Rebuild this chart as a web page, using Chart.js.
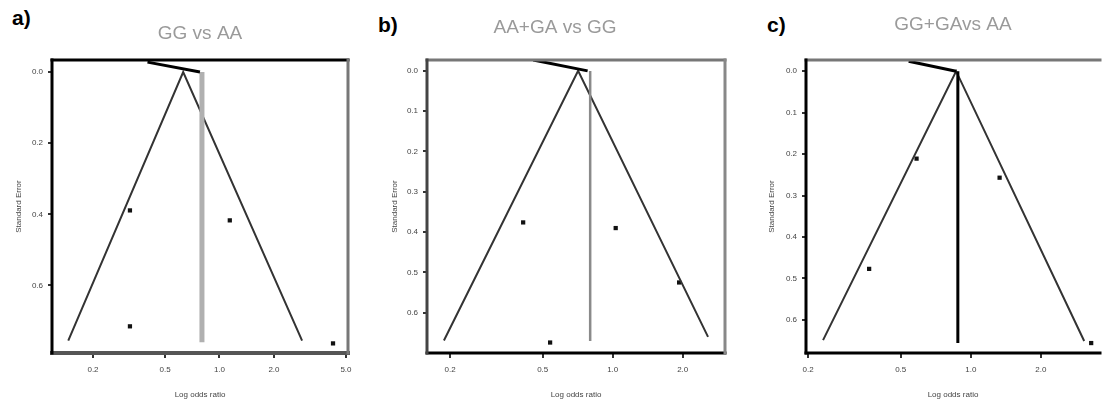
<!DOCTYPE html>
<html>
<head>
<meta charset="utf-8">
<script src="https://cdn.jsdelivr.net/npm/chart.js@4.4.1/dist/chart.umd.min.js"></script>
<style>
  body { margin: 0; background: #fff; width: 1104px; height: 400px; overflow: hidden; position: relative; }
  canvas { position: absolute; top: 0; }
  .tag { position: absolute; font: bold 21px "Liberation Sans", Arial, sans-serif; color: #000; }
</style>
</head>
<body>
<div class="tag" style="left:12px;top:6px">a)</div>
<div class="tag" style="left:378px;top:13px">b)</div>
<div class="tag" style="left:767px;top:13px">c)</div>
<canvas id="chartA" width="368" height="400" style="left:0"></canvas>
<canvas id="chartB" width="350" height="400" style="left:385px"></canvas>
<canvas id="chartC" width="339" height="400" style="left:765px"></canvas>
<script>
// ---- data: odds ratio on x (log axis), standard error on y (reversed) ----
const titles = ["GG vs AA", "AA+GA vs GG", "GG+GAvs AA"];
const xTitle = "Log odds ratio";
const yTitle = "Standard Error";

const xTicksA = [0.2, 0.5, 1, 2, 5];
const xTicksBC = [0.2, 0.5, 1, 2];
const yTicksA = [0, 0.2, 0.4, 0.6];
const yTicksBC = [0, 0.1, 0.2, 0.3, 0.4, 0.5, 0.6];

// a) GG vs AA
const orA = [0.32, 1.14, 0.32, 4.24];
const seA = [0.389, 0.417, 0.715, 0.763];
const funnelOrA = [0.146, 0.63, 2.86];
const funnelSeA = [0.755, 0, 0.755];
const pooledOrA = [0.80, 0.80];
const pooledSeA = [0, 0.76];
const topOrA = [0.40, 0.78];
const topSeA = [-0.028, 0];

// b) AA+GA vs GG
const orB = [0.412, 1.03, 1.93, 0.538];
const seB = [0.376, 0.39, 0.525, 0.674];
const funnelOrB = [0.188, 0.71, 2.57];
const funnelSeB = [0.669, 0, 0.66];
const pooledOrB = [0.80, 0.80];
const pooledSeB = [0, 0.67];
const topOrB = [0.455, 0.78];
const topSeB = [-0.027, 0];

// c) GG+GA vs AA
const orC = [0.585, 1.33, 0.366, 3.29];
const seC = [0.211, 0.257, 0.477, 0.656];
const funnelOrC = [0.232, 0.865, 3.07];
const funnelSeC = [0.649, 0, 0.651];
const pooledOrC = [0.88, 0.88];
const pooledSeC = [0, 0.656];
const topOrC = [0.541, 0.865];
const topSeC = [-0.024, 0];

function pts(xs, ys) {
    return xs.map((x, i) => ({ x: x, y: ys[i] }));
}

// box around the plot area, every side its own colour / width
const framePlugin = {
    id: 'frame',
    afterDatasetsDraw(chart, args, opts) {
        const { ctx, chartArea: a } = chart;
        const sides = {
            top: [a.left, a.top, a.right, a.top],
            bottom: [a.left, a.bottom, a.right, a.bottom],
            left: [a.left, a.top, a.left, a.bottom],
            right: [a.right, a.top, a.right, a.bottom]
        };
        ctx.save();
        ctx.lineCap = 'square';
        Object.keys(sides).forEach(k => {
            const s = opts[k];
            if (!s) return;
            const p = sides[k];
            ctx.strokeStyle = s[0];
            ctx.lineWidth = s[1];
            ctx.beginPath();
            ctx.moveTo(p[0], p[1]);
            ctx.lineTo(p[2], p[3]);
            ctx.stroke();
        });
        ctx.restore();
    }
};

const tickFont = { family: "'Liberation Sans', Arial, sans-serif", size: 8 };

function funnelChart(id, c) {
    return new Chart(document.getElementById(id), {
        type: 'scatter',
        data: {
            datasets: [
                { data: pts(c.topOr, c.topSe), showLine: true, borderColor: '#000', borderWidth: 3, pointRadius: 0 },
                { data: pts(c.pooledOr, c.pooledSe), showLine: true, borderColor: c.pooledColor, borderWidth: c.pooledWidth, pointRadius: 0 },
                { data: pts(c.funnelOr, c.funnelSe), showLine: true, borderColor: '#333', borderWidth: 2, pointRadius: 0 },
                { data: pts(c.or, c.se), pointStyle: 'rect', pointRadius: 3, backgroundColor: '#111', borderColor: '#111', borderWidth: 0 }
            ]
        },
        options: {
            responsive: false,
            animation: false,
            devicePixelRatio: 1,
            layout: { padding: { left: 0, right: c.padRight, top: 0, bottom: 0 } },
            plugins: {
                legend: { display: false },
                tooltip: { enabled: false },
                title: {
                    display: true,
                    text: c.title,
                    fullSize: c.fullSize,
                    color: '#9a9a9a',
                    font: { family: "'Liberation Sans', Arial, sans-serif", size: 19, weight: 'normal', lineHeight: 1.2 },
                    padding: { top: c.titleTop, bottom: 60 - 22.8 - c.titleTop }
                },
                frame: c.frame
            },
            scales: {
                x: {
                    type: 'logarithmic',
                    min: c.xMin,
                    max: c.xMax,
                    afterBuildTicks: s => { s.ticks = c.xTicks.map(v => ({ value: v })); },
                    afterFit: s => { s.height = 47; },
                    grid: { drawOnChartArea: false, drawTicks: true, tickLength: 5, color: '#333', lineWidth: 2 },
                    border: { display: false },
                    ticks: { autoSkip: false, maxRotation: 0, padding: 7, color: '#444', font: tickFont,
                             callback: v => v < 1 ? String(v) : v.toFixed(1) },
                    title: { display: true, text: xTitle, color: '#444', font: tickFont, padding: { top: 0, bottom: 0 } }
                },
                y: {
                    type: 'linear',
                    reverse: true,
                    min: c.yMin,
                    max: c.yMax,
                    afterBuildTicks: s => { s.ticks = c.yTicks.map(v => ({ value: v })); },
                    afterFit: s => { s.width = c.yWidth; },
                    grid: { drawOnChartArea: false, drawTicks: true, tickLength: 4, color: '#333', lineWidth: 2 },
                    border: { display: false },
                    ticks: { autoSkip: false, padding: 5, color: '#444', font: tickFont, callback: v => v.toFixed(1) },
                    title: { display: true, text: yTitle, color: '#444', font: tickFont, padding: { top: c.yTitlePad, bottom: 0 } }
                }
            }
        },
        plugins: [framePlugin]
    });
}

funnelChart('chartA', {
    title: titles[0], fullSize: false, titleTop: 22.8, padRight: 20, yWidth: 52, yTitlePad: 14.2,
    xMin: 0.1187, xMax: 5.13, yMin: -0.034, yMax: 0.79, xTicks: xTicksA, yTicks: yTicksA,
    or: orA, se: seA, funnelOr: funnelOrA, funnelSe: funnelSeA,
    pooledOr: pooledOrA, pooledSe: pooledSeA, topOr: topOrA, topSe: topSeA,
    pooledColor: '#b0b0b0', pooledWidth: 5,
    frame: { top: ['#000', 3], left: ['#000', 3], right: ['#777', 3], bottom: ['#555', 4] }
});

funnelChart('chartB', {
    title: titles[1], fullSize: true, titleTop: 16.8, padRight: 10, yWidth: 42, yTitlePad: 4.7,
    xMin: 0.159, xMax: 3.04, yMin: -0.027, yMax: 0.70, xTicks: xTicksBC, yTicks: yTicksBC,
    or: orB, se: seB, funnelOr: funnelOrB, funnelSe: funnelSeB,
    pooledOr: pooledOrB, pooledSe: pooledSeB, topOr: topOrB, topSe: topSeB,
    pooledColor: '#8a8a8a', pooledWidth: 2.5,
    frame: { top: ['#777', 3], left: ['#444', 3], right: ['#888', 3], bottom: ['#000', 3] }
});

funnelChart('chartC', {
    title: titles[2], fullSize: false, titleTop: 13.8, padRight: 0, yWidth: 41, yTitlePad: 1.7,
    xMin: 0.196, xMax: 3.59, yMin: -0.027, yMax: 0.68, xTicks: xTicksBC, yTicks: yTicksBC,
    or: orC, se: seC, funnelOr: funnelOrC, funnelSe: funnelSeC,
    pooledOr: pooledOrC, pooledSe: pooledSeC, topOr: topOrC, topSe: topSeC,
    pooledColor: '#000', pooledWidth: 3,
    frame: { top: ['#777', 3], left: ['#000', 3], bottom: ['#000', 3] }
});
</script>
</body>
</html>
